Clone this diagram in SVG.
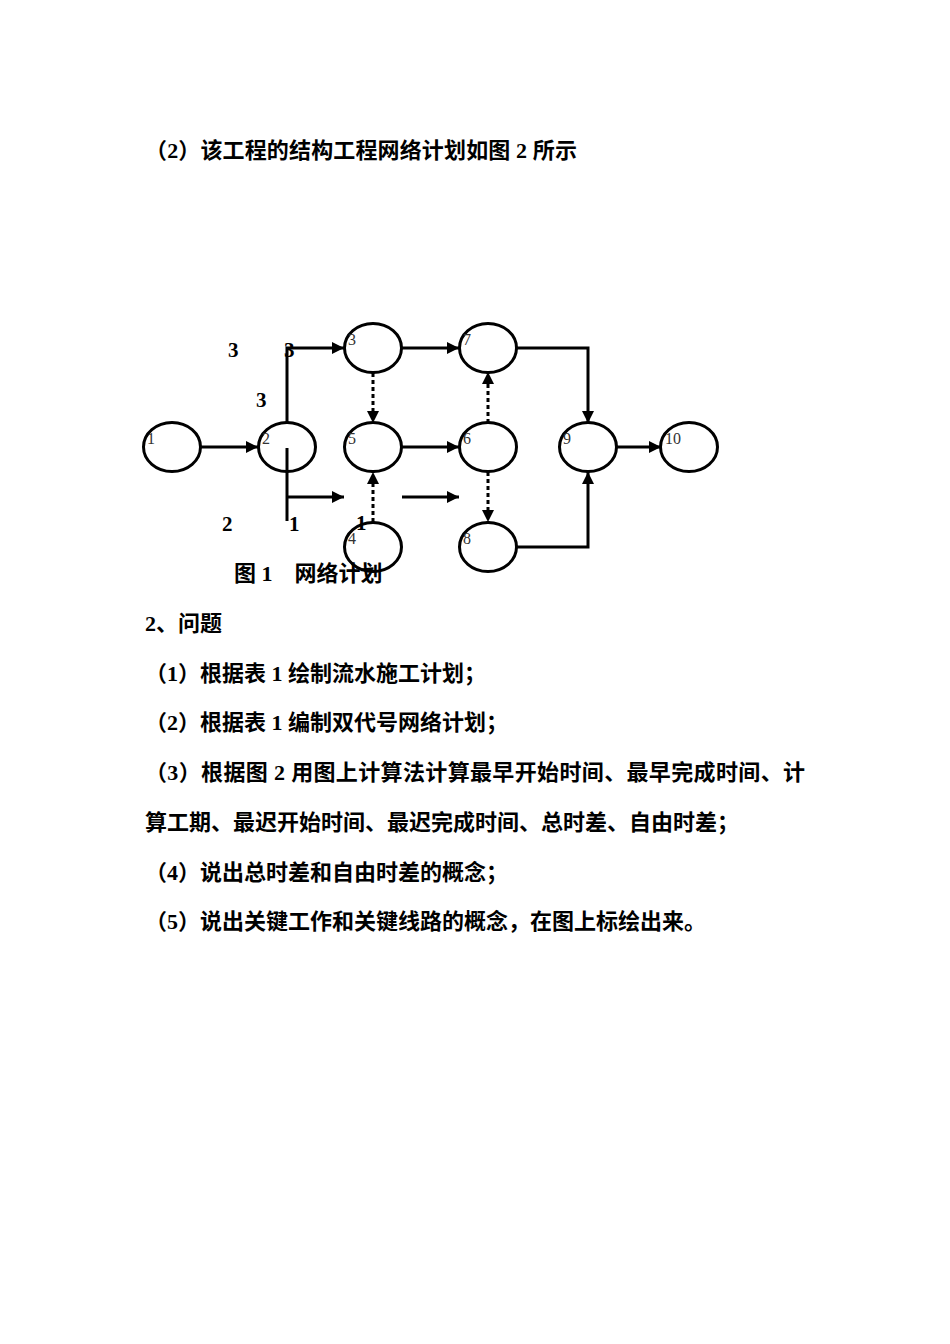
<svg xmlns="http://www.w3.org/2000/svg" width="950" height="1344" viewBox="0 0 950 1344">
<style>
.t{font-family:"Liberation Serif","Noto Sans CJK SC",serif;font-size:22px;font-weight:bold;fill:#000}
.w{font-family:"Liberation Serif",serif;font-size:21px;font-weight:bold;fill:#000}
.n{font-family:"Liberation Serif",serif;font-size:16px;fill:#333}
.node ellipse{fill:none;stroke:#000;stroke-width:3}
.e{fill:none;stroke:#000;stroke-width:3}
.d{fill:none;stroke:#000;stroke-width:3;stroke-dasharray:4 3}
</style>
<defs>
<marker id="a" viewBox="0 0 10 10" refX="10" refY="5" markerWidth="4" markerHeight="4" markerUnits="strokeWidth" orient="auto">
<path d="M0,0 L10,5 L0,10 z" fill="#000"/>
</marker>
</defs>
<rect width="950" height="1344" fill="#fff"/>
<text class="t" x="145" y="158" textLength="432" lengthAdjust="spacing">（2）该工程的结构工程网络计划如图 2 所示</text>

<g id="labels">
<text class="w" x="228" y="357">3</text>
<text class="w" x="284" y="357">3</text>
<text class="w" x="256" y="407">3</text>
<text class="w" x="222" y="531">2</text>
<text class="w" x="289" y="531">1</text>
<text class="w" x="356" y="530">1</text>
</g>
<text class="t" x="234" y="581">图 1　网络计划</text>

<g id="connectors">
<line class="e" x1="201" y1="447" x2="258" y2="447" marker-end="url(#a)"/>
<polyline class="e" points="287,423 287,348 344,348" marker-end="url(#a)"/>
<line class="e" x1="287" y1="448" x2="287" y2="521"/>
<line class="e" x1="287" y1="497" x2="344" y2="497" marker-end="url(#a)"/>
<line class="e" x1="402" y1="497" x2="459" y2="497" marker-end="url(#a)"/>
<line class="e" x1="402" y1="348" x2="459" y2="348" marker-end="url(#a)"/>
<line class="e" x1="402" y1="447" x2="459" y2="447" marker-end="url(#a)"/>
<line class="d" x1="373" y1="373" x2="373" y2="423" marker-end="url(#a)"/>
<line class="d" x1="373" y1="522" x2="373" y2="472" marker-end="url(#a)"/>
<line class="d" x1="488" y1="423" x2="488" y2="372" marker-end="url(#a)"/>
<line class="d" x1="488" y1="472" x2="488" y2="522" marker-end="url(#a)"/>
<polyline class="e" points="517,348 588,348 588,423" marker-end="url(#a)"/>
<polyline class="e" points="517,547 588,547 588,472" marker-end="url(#a)"/>
<line class="e" x1="617" y1="447" x2="661" y2="447" marker-end="url(#a)"/>
</g>

<g id="node1" class="node"><ellipse cx="172" cy="447" rx="28.5" ry="24.5"/><text class="n" x="147" y="444">1</text></g>
<g id="node2" class="node"><ellipse cx="287" cy="447" rx="28.5" ry="24.5"/><text class="n" x="262" y="444">2</text></g>
<g id="node3" class="node"><ellipse cx="373" cy="348" rx="28.5" ry="24.5"/><text class="n" x="348" y="345">3</text></g>
<g id="node5" class="node"><ellipse cx="373" cy="447" rx="28.5" ry="24.5"/><text class="n" x="348" y="444">5</text></g>
<g id="node4" class="node"><ellipse cx="373" cy="547" rx="28.5" ry="24.5"/><text class="n" x="348" y="544">4</text></g>
<g id="node7" class="node"><ellipse cx="488" cy="348" rx="28.5" ry="24.5"/><text class="n" x="463" y="345">7</text></g>
<g id="node6" class="node"><ellipse cx="488" cy="447" rx="28.5" ry="24.5"/><text class="n" x="463" y="444">6</text></g>
<g id="node8" class="node"><ellipse cx="488" cy="547" rx="28.5" ry="24.5"/><text class="n" x="463" y="544">8</text></g>
<g id="node9" class="node"><ellipse cx="588" cy="447" rx="28.5" ry="24.5"/><text class="n" x="563" y="444">9</text></g>
<g id="node10" class="node"><ellipse cx="689" cy="447" rx="28.5" ry="24.5"/><text class="n" x="665" y="444">10</text></g>

<text class="t" x="145" y="631">2、问题</text>
<text class="t" x="145" y="681">（1）根据表 1 绘制流水施工计划；</text>
<text class="t" x="145" y="730">（2）根据表 1 编制双代号网络计划；</text>
<text class="t" x="145" y="780" textLength="660" lengthAdjust="spacing">（3）根据图 2 用图上计算法计算最早开始时间、最早完成时间、计</text>
<text class="t" x="145" y="830">算工期、最迟开始时间、最迟完成时间、总时差、自由时差；</text>
<text class="t" x="145" y="880">（4）说出总时差和自由时差的概念；</text>
<text class="t" x="145" y="929">（5）说出关键工作和关键线路的概念，在图上标绘出来。</text>
</svg>
